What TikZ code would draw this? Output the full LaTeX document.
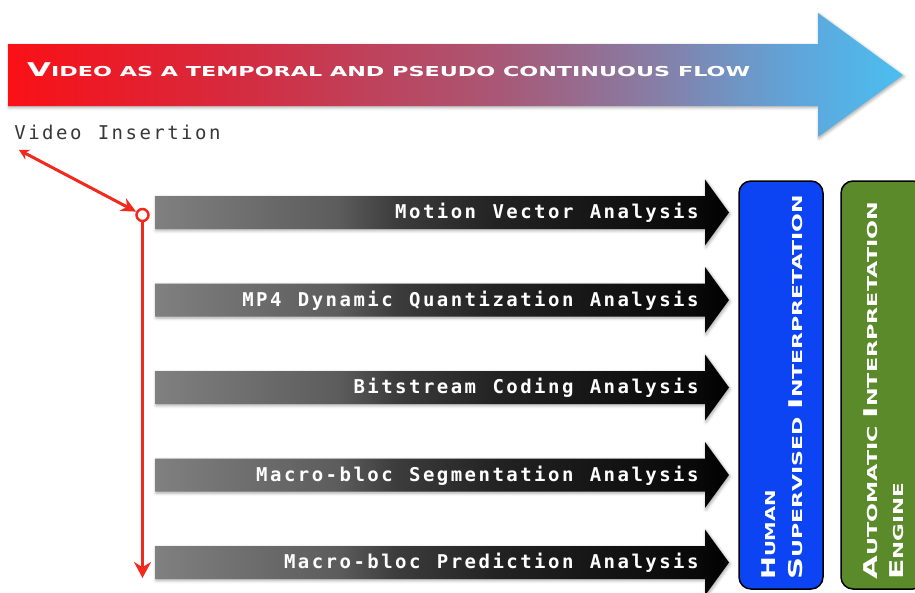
\documentclass[tikz,border=0pt]{standalone}
\usepackage{fontspec}
\usepackage{graphicx}
\usetikzlibrary{arrows.meta,shadows.blur}

\newfontfamily\capsfont{DejaVu Sans}
\newfontfamily\codefont{DejaVu Sans Mono}

% fake small capitals: large initial, smaller capitals
\newcommand\initcap[1]{{\fontsize{19}{19}\selectfont #1}}
\newcommand\restcap[1]{{\fontsize{13.7}{13.7}\selectfont #1}}

% monospaced text set on a fixed, wide pitch
\newlength\monopitch
\setlength\monopitch{13.9pt}
\ExplSyntaxOn
\cs_new:Npn \pitch_char:n #1 { \makebox[\monopitch][c]{#1} }
\NewDocumentCommand\pitched{m}{ \str_map_function:nN {#1} \pitch_char:n }
\ExplSyntaxOff

\definecolor{flowA}{RGB}{250,16,22}
\definecolor{flowB}{RGB}{214,42,62}
\definecolor{flowC}{RGB}{168,88,118}
\definecolor{flowD}{RGB}{135,125,165}
\definecolor{flowE}{RGB}{95,165,218}
\definecolor{flowF}{RGB}{75,190,240}
\definecolor{barA}{RGB}{128,128,128}
\definecolor{barB}{RGB}{92,92,92}
\definecolor{barC}{RGB}{60,60,60}
\definecolor{barD}{RGB}{34,34,34}
\definecolor{barE}{RGB}{8,8,8}
\definecolor{redline}{RGB}{242,42,30}
\definecolor{textgray}{RGB}{55,55,55}
\definecolor{humanblue}{RGB}{12,68,244}
\definecolor{enginegreen}{RGB}{90,138,42}

\pgfdeclarehorizontalshading{flowgrad}{100bp}{color(0bp)=(flowA); color(25bp)=(flowA);
  color(37.5bp)=(flowB); color(52.5bp)=(flowC); color(61bp)=(flowD); color(69bp)=(flowE);
  color(75bp)=(flowF); color(100bp)=(flowF)}
\pgfdeclarehorizontalshading{bargrad}{100bp}{color(0bp)=(barA); color(25bp)=(barA);
  color(41bp)=(barB); color(46bp)=(barC); color(55bp)=(barD); color(72.5bp)=(barE);
  color(75bp)=(black); color(100bp)=(black)}

\tikzset{
  softshadow/.style={blur shadow={shadow xshift=1pt, shadow yshift=-1.5pt,
      shadow blur radius=3pt, shadow opacity=35}},
  titletext/.style={inner sep=0, text=white, font=\capsfont\bfseries},
  monotext/.style={inner sep=0, font=\codefont\fontsize{19}{19}\selectfont},
  bartext/.style={monotext, text=white, font=\codefont\bfseries\fontsize{19}{19}\selectfont},
  panel/.style={draw=black, line width=1.5pt, rounded corners=12pt,
      minimum width=84pt, minimum height=408pt, inner sep=0},
  paneltext/.style={inner sep=0, rotate=90, anchor=base west, text=white,
      font=\capsfont\bfseries},
  redpath/.style={draw=redline, line width=3pt},
}

% one grey analysis arrow with its label: centre y, node name, text
\newcommand\analysisbar[3]{%
  \shade[shading=bargrad, softshadow]
    (155,#1-16.5) -- (705,#1-16.5) -- (705,#1-33) -- (729,#1) --
    (705,#1+33) -- (705,#1+16.5) -- (155,#1+16.5) -- cycle;
  \node[bartext, anchor=base east] (#2) at (700,#1+6) {\pitched{#3}};
}

\begin{document}
\begin{tikzpicture}[x=1pt,y=-1pt]
\useasboundingbox (0,0) rectangle (915,592);

% temporal flow arrow
\shade[shading=flowgrad, softshadow]
  (8,44) -- (818,44) -- (818,13) -- (903,75) -- (818,137) -- (818,106) -- (8,106) -- cycle;
\node[titletext, anchor=base west] (flowlabel) at (27,76)
  {\resizebox{723pt}{\height}{\initcap{V}\restcap{IDEO AS A TEMPORAL AND PSEUDO CONTINUOUS FLOW}}};

\node[monotext, text=textgray, anchor=base west] (insertion) at (13,139) {\pitched{Video Insertion}};

% analysis arrows
\analysisbar{212.5}{motion}{Motion Vector Analysis}
\analysisbar{300}{quant}{MP4 Dynamic Quantization Analysis}
\analysisbar{387.5}{bitstream}{Bitstream Coding Analysis}
\analysisbar{475}{segment}{Macro-bloc Segmentation Analysis}
\analysisbar{562.5}{predict}{Macro-bloc Prediction Analysis}

% insertion path
\node[circle, draw=redline, line width=2.5pt, fill=white, minimum size=12pt, inner sep=0] (junction) at (142.5,215) {};
\coordinate (insertpt) at (19,150);
\coordinate (lastbar) at (142.5,578);
\draw[redpath, {Stealth[length=10pt,width=11pt]}-{Stealth[length=15pt,width=14pt]}] (insertpt) -- (junction);
\draw[redpath, -{Stealth[length=16pt,width=17pt]}] (junction) -- (lastbar);

% interpretation panels
\node[panel, fill=humanblue] (human) at (781,385) {};
\node[panel, fill=enginegreen] (engine) at (883,385) {};

\node[paneltext] (humanA) at (775,580) {\resizebox{90pt}{\height}{\initcap{H}\restcap{UMAN}}};
\node[paneltext] (humanB) at (802,580) {\resizebox{385pt}{\height}{\initcap{S}\restcap{UPERVISED }\initcap{I}\restcap{NTERPRETATION}}};
\node[paneltext] (engineA) at (877,580) {\resizebox{378pt}{\height}{\initcap{A}\restcap{UTOMATIC }\initcap{I}\restcap{NTERPRETATION}}};
\node[paneltext] (engineB) at (903,580) {\resizebox{97pt}{\height}{\initcap{E}\restcap{NGINE}}};
\end{tikzpicture}
\end{document}
